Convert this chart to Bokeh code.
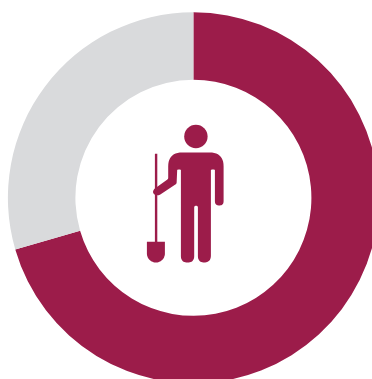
import numpy as np
from bokeh.plotting import figure
from bokeh.models import Range1d
from bokeh.embed import file_html
from bokeh.resources import INLINE

categories = ["Share", "Remainder"]
values = [70.5, 29.5]
colors = ["#9C1C4A", "#D9DADC"]

W, H = 372, 379
p = figure(width=W, height=H, output_backend="svg", toolbar_location=None,
           x_range=Range1d(0.6, 372.6), y_range=Range1d(-0.7, 378.3),
           min_border=0, outline_line_color=None, background_fill_color="white")
p.axis.visible = False
p.grid.visible = False

def Y(y):
    return 379 - y

cx, cy, r0, r1 = 193.5, 198, 118, 185.5
angle = np.pi / 2
total = sum(values)
for v, c in zip(values, colors):
    sweep = 2 * np.pi * v / total
    p.annular_wedge([cx], [Y(cy)], inner_radius=r0, outer_radius=r1,
                    start_angle=angle, end_angle=angle - sweep, direction="clock",
                    fill_color=c, line_color=None)
    angle -= sweep

def rounded(pts):
    xs, ys = [], []
    n = len(pts)
    for i in range(n):
        x, y, r = pts[i]
        P = np.array([x, y], float)
        A = np.array(pts[i - 1][:2], float)
        B = np.array(pts[(i + 1) % n][:2], float)
        if r == 0:
            xs.append(x); ys.append(y)
            continue
        a = P + (A - P) / np.linalg.norm(A - P) * r
        b = P + (B - P) / np.linalg.norm(B - P) * r
        for t in np.linspace(0, 1, 12):
            q = (1 - t) ** 2 * a + 2 * t * (1 - t) * P + t ** 2 * b
            xs.append(q[0]); ys.append(q[1])
    return xs, [Y(v) for v in ys]

ink = colors[0]
body = [
    (168.3, 152.7, 14), (223.7, 152.7, 14), (223.7, 205.7, 4.4), (215, 205.7, 4.4),
    (215, 170, 0), (213, 169.5, 2), (211, 170, 0), (211, 262.7, 7), (198, 262.7, 6.5),
    (198, 206, 1.8), (194.3, 206, 1.8), (194.3, 262.7, 6.5), (181, 262.7, 6.5),
    (181, 170, 0), (179, 169.5, 2), (177.3, 170, 0), (176.7, 184, 1.5),
    (157.5, 196.5, 3.5), (152, 193, 3.5), (154.5, 189, 1), (168.3, 179, 1),
]
bx, by = rounded(body)
p.patch(bx, by, fill_color=ink, line_color=None)

p.circle([196], [Y(136.7)], radius=11.7, fill_color=ink, line_color=None)

p.quad(left=[155], right=[157.4], top=[Y(154)], bottom=[Y(243)], fill_color=ink, line_color=None)
t = np.linspace(0, np.pi, 30)
sx = [147.0, 165.0] + list(156 + 9 * np.cos(t))
sy = [Y(v) for v in [242.0, 242.0] + list(253.7 + 9 * np.sin(t))]
p.patch(sx, sy, fill_color=ink, line_color=None)

open("out.html", "w").write(file_html(p, INLINE))
